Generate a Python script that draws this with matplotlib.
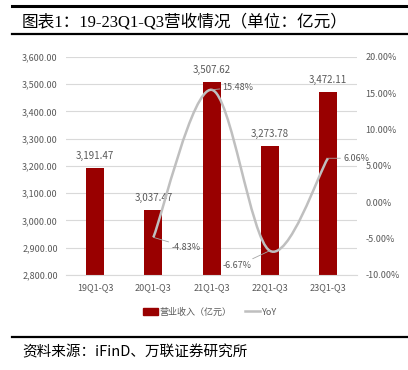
import matplotlib
matplotlib.use('Agg')
import matplotlib.pyplot as plt
from matplotlib.path import Path
from matplotlib.patches import PathPatch
from matplotlib.lines import Line2D
from matplotlib.patches import Patch
from matplotlib.ticker import FuncFormatter, MultipleLocator

plt.rcParams['font.family'] = ['Noto Sans CJK SC', 'DejaVu Sans']

categories = ['19Q1-Q3', '20Q1-Q3', '21Q1-Q3', '22Q1-Q3', '23Q1-Q3']
revenue = [3191.47, 3037.47, 3507.62, 3273.78, 3472.11]
yoy_idx = [1, 2, 3, 4]
yoy = [-4.83, 15.48, -6.67, 6.06]

bar_color = '#990000'
line_color = '#BFBFBF'
text_color = '#595959'

fig = plt.figure(figsize=(4.08, 3.70), dpi=100)
ax = fig.add_axes([0.162, 0.257, 0.713, 0.589])
ax2 = ax.twinx()

x = list(range(len(categories)))
ax.bar(x, revenue, width=0.31, color=bar_color, zorder=2)
ax.set_ylim(2800, 3600)
ax.set_xlim(-0.5, 4.5)
ax.yaxis.set_major_locator(MultipleLocator(100))
ax.yaxis.set_major_formatter(FuncFormatter(lambda v, p: f'{v:,.2f}'))
ax.grid(axis='y', color='#D9D9D9', lw=0.8, zorder=0)
ax.set_axisbelow(True)
ax.set_xticks(x)
ax.set_xticklabels(categories)
for s in ['top', 'left', 'right']:
    ax.spines[s].set_visible(False)
ax.spines['bottom'].set_color('#D9D9D9')
ax.tick_params(length=0, labelsize=6.5, colors=text_color, pad=6)

for xi, v in zip(x, revenue):
    ax.annotate(f'{v:,.2f}', (xi, v), xytext=(0, 5), textcoords='offset points',
                ha='center', va='bottom', fontsize=7, color=text_color)

# smoothed YoY line (catmull-rom style bezier, like excel smoothing)
pts = list(zip(yoy_idx, yoy))
verts = [pts[0]]
codes = [Path.MOVETO]
for i in range(len(pts) - 1):
    p0 = pts[i - 1] if i > 0 else pts[i]
    p1 = pts[i]
    p2 = pts[i + 1]
    p3 = pts[i + 2] if i + 2 < len(pts) else pts[i + 1]
    c1 = (p1[0] + (p2[0] - p0[0]) / 6, p1[1] + (p2[1] - p0[1]) / 6)
    c2 = (p2[0] - (p3[0] - p1[0]) / 6, p2[1] - (p3[1] - p1[1]) / 6)
    verts += [c1, c2, p2]
    codes += [Path.CURVE4] * 3
ax2.add_patch(PathPatch(Path(verts, codes), fill=False, edgecolor=line_color, lw=1.8, zorder=3))
ax2.set_ylim(-10, 20)
ax2.yaxis.set_major_locator(MultipleLocator(5))
ax2.yaxis.set_major_formatter(FuncFormatter(lambda v, p: f'{v:.2f}%'))
for s in ['top', 'left', 'right', 'bottom']:
    ax2.spines[s].set_visible(False)
ax2.tick_params(length=0, labelsize=6.5, colors=text_color, pad=6)

label_offsets = [(13, -7, 'left'), (8, 2, 'left'), (-13, -11, 'right'), (11, 0, 'left')]
for xi, v, (dx, dy, ha) in zip(yoy_idx, yoy, label_offsets):
    ax2.annotate(f'{v:.2f}%', (xi, v), xytext=(dx, dy), textcoords='offset points',
                 ha=ha, va='center', fontsize=6.5, color=text_color,
                 arrowprops=dict(arrowstyle='-', color='#A6A6A6', lw=0.6,
                                 shrinkA=0, shrinkB=0))

handles = [Patch(color=bar_color), Line2D([], [], color=line_color, lw=1.8)]
fig.legend(handles, ['营业收入（亿元）', 'YoY'], loc='center', bbox_to_anchor=(0.515, 0.157),
           ncol=2, frameon=False, fontsize=6.5, labelcolor=text_color,
           handlelength=1.6, handleheight=0.7, handletextpad=0.2, columnspacing=1.5)

# header and footer
fig.add_artist(Line2D([0.03, 1.0], [0.983, 0.983], color='black', lw=2.2))
fig.add_artist(Line2D([0.03, 1.0], [0.908, 0.908], color='black', lw=1.6))
fig.text(0.054, 0.941, '图表1：19-23Q1-Q3营收情况（单位：亿元）', fontsize=12,
         family=['Liberation Serif', 'Noto Sans CJK SC'], va='center', ha='left')
fig.add_artist(Line2D([0.03, 1.0], [0.088, 0.088], color='black', lw=1.6))
fig.text(0.054, 0.048, '资料来源：iFinD、万联证券研究所', fontsize=10.5, style='italic',
         va='center', ha='left')

fig.savefig('out.png', dpi=100)
